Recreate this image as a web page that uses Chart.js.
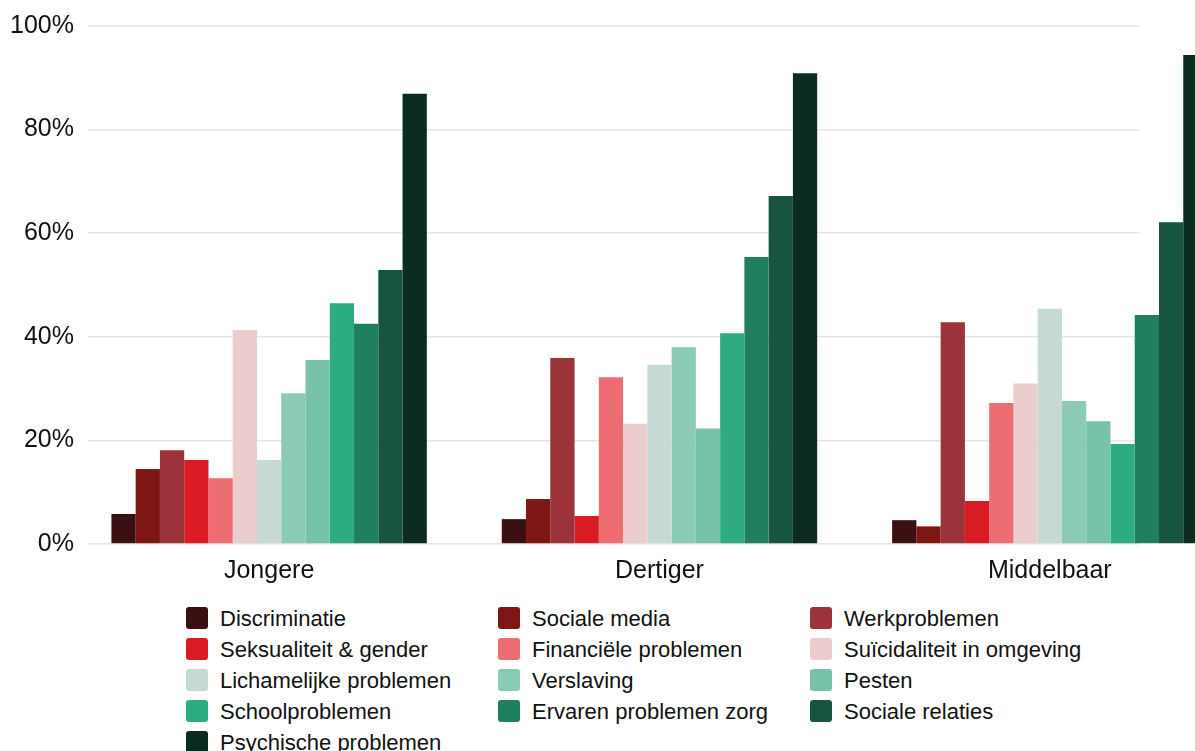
<!DOCTYPE html>
<html lang="nl">
<head>
<meta charset="utf-8">
<title>Problemen per leeftijdsgroep</title>
<script src="https://cdn.jsdelivr.net/npm/chart.js@4.4.1/dist/chart.umd.min.js"></script>
<style>
  html, body { margin: 0; padding: 0; background: #fff; overflow: hidden; width: 1195px; height: 751px; }
  #wrap { position: absolute; left: 0; top: 0; width: 1250px; height: 598px; }
  #legend {
    position: absolute; left: 186px; top: 607px;
    display: grid; grid-template-columns: repeat(3, 312px); grid-auto-rows: 31px;
    font-family: "Liberation Sans", Arial, Helvetica, sans-serif; font-size: 22px; color: #111;
  }
  .item { display: flex; align-items: flex-start; height: 31px; white-space: nowrap; }
  .box { width: 22px; height: 22px; border-radius: 3px; margin-right: 12px; flex: none; }
  .lbl { line-height: 24px; }
</style>
</head>
<body>
<div id="wrap"><canvas id="chart" width="1250" height="598"></canvas></div>
<div id="legend"></div>
<script>
// Leeftijdsgroepen op de x-as
const categories = ['Jongere', 'Dertiger', 'Middelbaar'];

// Probleemgebieden (één reeks per gebied)
const seriesLabels = [
  'Discriminatie', 'Sociale media', 'Werkproblemen',
  'Seksualiteit & gender', 'Financiële problemen', 'Suïcidaliteit in omgeving',
  'Lichamelijke problemen', 'Verslaving', 'Pesten',
  'Schoolproblemen', 'Ervaren problemen zorg', 'Sociale relaties',
  'Psychische problemen'
];

const seriesColors = [
  '#3b1013', '#7e1713', '#9a343a',
  '#d91c23', '#ec6e73', '#ebcdcd',
  '#c6d9d5', '#8bcab5', '#76c3aa',
  '#2dab82', '#207f60', '#175542',
  '#0c2c22'
];

// Percentages per leeftijdsgroep, in volgorde van seriesLabels
const jongere    = [5.8, 14.5, 18.1, 16.2, 12.7, 41.3, 16.2, 29.1, 35.5, 46.5, 42.5, 52.9, 86.9];
const dertiger   = [4.8,  8.7, 35.9,  5.4, 32.2, 23.2, 34.6, 38.0, 22.3, 40.7, 55.4, 67.2, 90.9];
const middelbaar = [4.6,  3.4, 42.8,  8.3, 27.2, 31.0, 45.4, 27.6, 23.7, 19.3, 44.2, 62.1, 94.4];

// Y-as ticks
const yTicks = [0, 20, 40, 60, 80, 100];

const groups = [jongere, dertiger, middelbaar];
const datasets = seriesLabels.map((label, i) => ({
  label,
  data: groups.map(g => g[i]),
  backgroundColor: seriesColors[i],
  borderWidth: 0,
  barPercentage: 1,
  categoryPercentage: 0.808
}));

const FONT = '"Liberation Sans", Arial, Helvetica, sans-serif';

// Gridlijnen lopen alleen over het middenstuk van de grafiek
const gridSpan = {
  id: 'gridSpan',
  beforeDatasetsDraw(chart, args, opts) {
    const { ctx, chartArea } = chart;
    ctx.save();
    ctx.fillStyle = '#ffffff';
    ctx.fillRect(chartArea.left, chartArea.top - 3, opts.start - chartArea.left, chartArea.height + 6);
    ctx.fillRect(opts.end, chartArea.top - 3, chartArea.right - opts.end + 2, chartArea.height + 6);
    ctx.restore();
  }
};

// HTML-legenda in drie kolommen
const htmlLegend = {
  id: 'htmlLegend',
  afterUpdate(chart) {
    const el = document.getElementById('legend');
    el.innerHTML = '';
    const items = chart.options.plugins.legend.labels.generateLabels(chart);
    items.forEach(it => {
      const row = document.createElement('div');
      row.className = 'item';
      const box = document.createElement('span');
      box.className = 'box';
      box.style.background = it.fillStyle;
      const txt = document.createElement('span');
      txt.className = 'lbl';
      txt.textContent = it.text;
      row.appendChild(box);
      row.appendChild(txt);
      el.appendChild(row);
    });
  }
};

new Chart(document.getElementById('chart'), {
  type: 'bar',
  data: { labels: categories, datasets },
  options: {
    responsive: false,
    animation: false,
    layout: { padding: { left: 10, top: 26, right: 5, bottom: 0 } },
    plugins: {
      legend: { display: false },
      tooltip: { enabled: false },
      gridSpan: { start: 88, end: 1139.5 }
    },
    scales: {
      x: {
        grid: { display: false, drawTicks: false },
        border: { display: false },
        ticks: { padding: 12, color: '#111', font: { family: FONT, size: 25 } }
      },
      y: {
        min: 0,
        max: 100,
        afterBuildTicks(scale) { scale.ticks = yTicks.map(v => ({ value: v })); },
        grid: { color: '#e6e6e6', lineWidth: 1.6, drawTicks: false },
        border: { display: false },
        ticks: {
          padding: 0,
          color: '#111',
          font: { family: FONT, size: 25 },
          callback: v => v + '%'
        }
      }
    }
  },
  plugins: [gridSpan, htmlLegend]
});
</script>
</body>
</html>
